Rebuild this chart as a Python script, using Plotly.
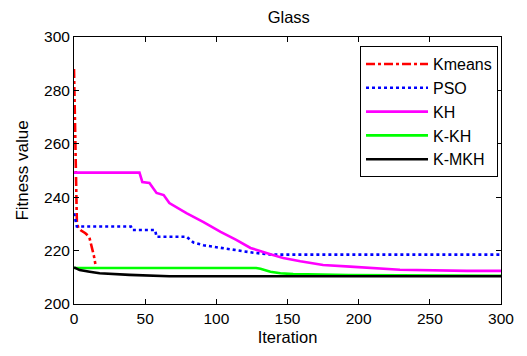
import plotly.graph_objects as go

# Convergence curves (iteration, best fitness) for each algorithm on the Glass dataset
kmeans_iter = [0, 0.5, 1, 1.5, 2, 3, 5, 8, 10, 11, 12, 13, 14, 15]
kmeans_fit = [288, 270, 250, 236, 231, 228.5, 227.5, 226.5, 225.5, 224.5, 222.5, 220.5, 218, 215]

pso_iter = [0, 1, 2, 40, 41, 57, 58, 79, 84, 91, 103, 114, 126, 137, 145, 300]
pso_fit = [234, 231, 229, 229, 227.7, 227.7, 225.2, 225.2, 223, 222, 221, 220.2, 219.2, 218.6, 218.5, 218.5]

kh_iter = [0, 46, 48, 53, 58, 63, 67, 79, 91, 103, 114, 124, 138, 147, 159, 175, 194, 210, 229, 276, 300]
kh_fit = [249.2, 249.2, 245.7, 245.3, 241.6, 240.8, 237.8, 234, 230.7, 227, 224, 221, 218.6, 217.2, 216, 214.6, 214, 213.4, 212.8, 212.4, 212.4]

kkh_iter = [0, 128, 131, 138, 145, 154, 193, 300]
kkh_fit = [213.5, 213.5, 213.2, 212.1, 211.5, 211.2, 210.8, 210.6]

kmkh_iter = [0, 4, 11, 18, 39, 67, 300]
kmkh_fit = [213.7, 212.7, 212.1, 211.5, 210.9, 210.4, 210.4]

series = [
    ("Kmeans", kmeans_iter, kmeans_fit, "#ff0000", "dashdot"),
    ("PSO", pso_iter, pso_fit, "#0000ff", "dot"),
    ("KH", kh_iter, kh_fit, "#ff00ff", "solid"),
    ("K-KH", kkh_iter, kkh_fit, "#00ff00", "solid"),
    ("K-MKH", kmkh_iter, kmkh_fit, "#000000", "solid"),
]

x_ticks = [0, 50, 100, 150, 200, 250, 300]
y_ticks = [200, 220, 240, 260, 280, 300]

FONT = '"Liberation Sans", Arial, sans-serif'

fig = go.Figure()
for name, xs, ys, color, dash in series:
    fig.add_trace(go.Scatter(
        x=xs, y=ys, mode="lines", name=name,
        line=dict(color=color, width=2.6, dash=dash),
    ))

axis_common = dict(
    showline=True, linecolor="black", linewidth=1, mirror="ticks",
    ticks="inside", ticklen=5, tickcolor="black", showgrid=False,
    zeroline=False, tickfont=dict(family=FONT, size=15.5, color="black"),
)

fig.update_layout(
    width=527, height=356,
    margin=dict(l=74, r=26, t=37, b=52),
    paper_bgcolor="white", plot_bgcolor="white",
    font=dict(family=FONT, size=15.5, color="black"),
    title=dict(text="Glass", x=0.503, xref="paper", xanchor="center",
               y=0.952, yanchor="middle", font=dict(family=FONT, size=16.5)),
    xaxis=dict(range=[0, 300], tickvals=x_ticks,
               title=dict(text="Iteration", standoff=5, font=dict(family=FONT, size=16.5)),
               **axis_common),
    yaxis=dict(range=[200, 300], tickvals=y_ticks,
               title=dict(text="Fitness value", standoff=11, font=dict(family=FONT, size=17)),
               **axis_common),
    legend=dict(x=0.993, y=0.966, xanchor="right", yanchor="top",
                bgcolor="white", bordercolor="black", borderwidth=1,
                font=dict(family=FONT, size=16), tracegroupgap=0, itemwidth=62),
    showlegend=True,
)

fig.write_html("out.html")
